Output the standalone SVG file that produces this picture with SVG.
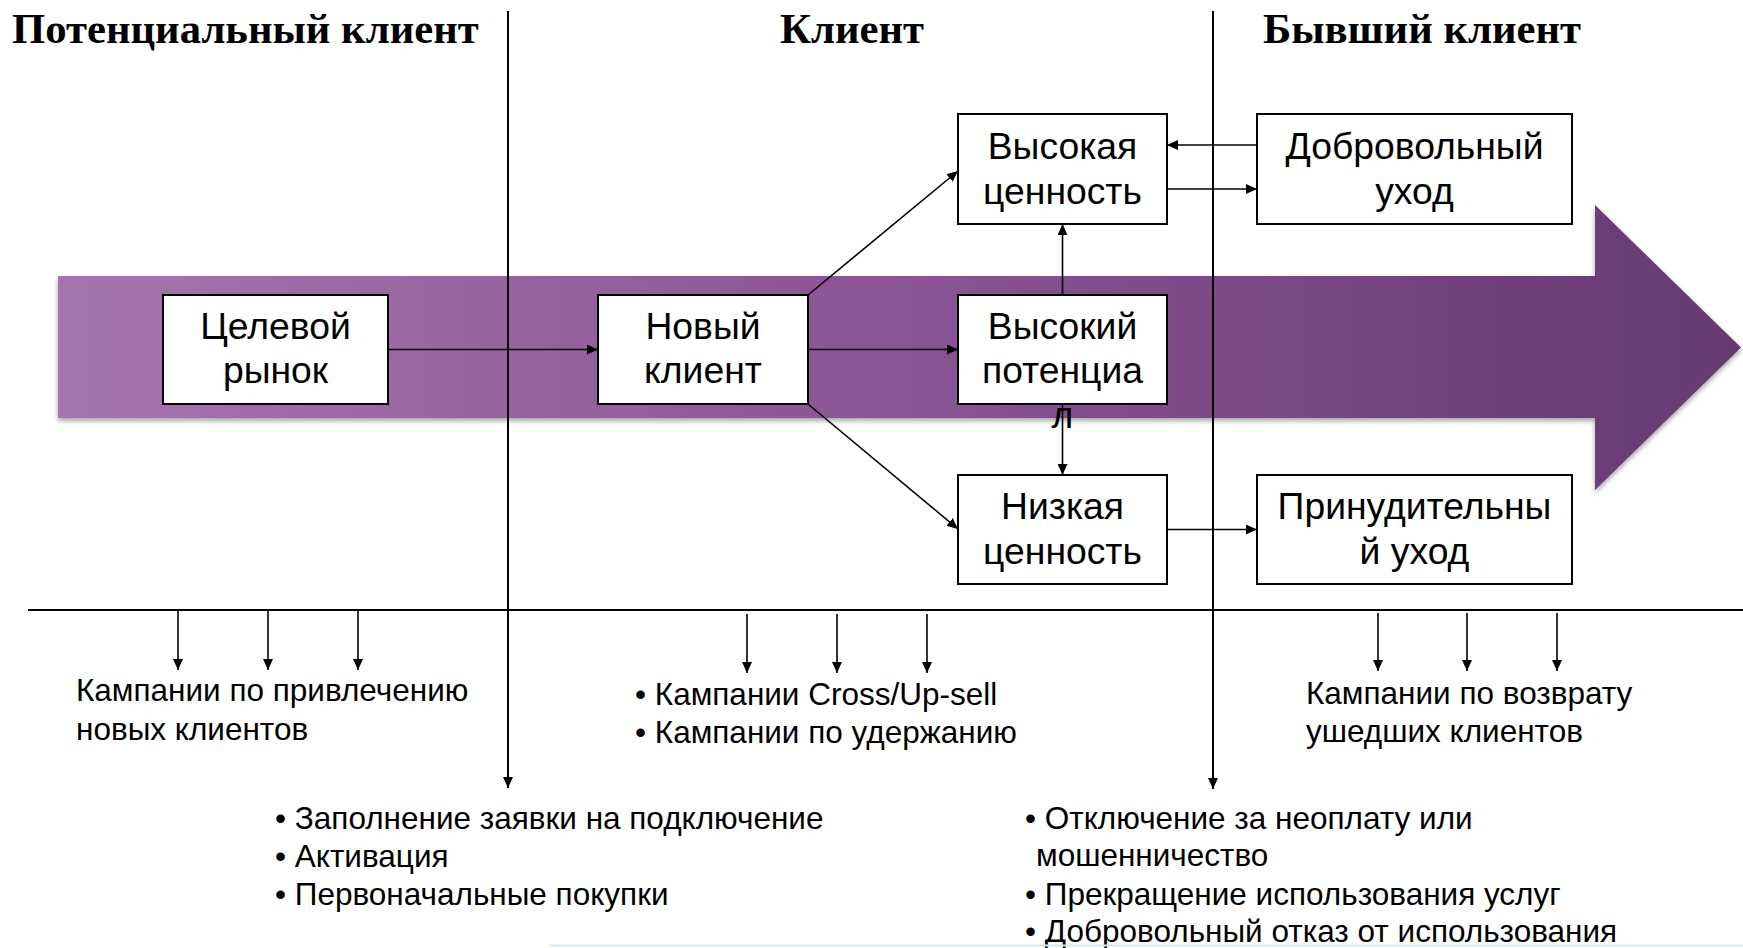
<svg xmlns="http://www.w3.org/2000/svg" width="1743" height="948" viewBox="0 0 1743 948">
<defs>
<linearGradient id="bigArrowGrad" x1="58" y1="0" x2="1741" y2="0" gradientUnits="userSpaceOnUse">
<stop offset="0" stop-color="#a674ae"/>
<stop offset="0.5" stop-color="#8a5494"/>
<stop offset="1" stop-color="#663972"/>
</linearGradient>
<filter id="shadow" x="-5%" y="-10%" width="110%" height="125%">
<feDropShadow dx="0" dy="3" stdDeviation="2.5" flood-color="#000" flood-opacity="0.35"/>
</filter>
<marker id="ah" markerUnits="userSpaceOnUse" markerWidth="12" markerHeight="10" refX="11" refY="5" orient="auto">
<path d="M0,0 L11,5 L0,10 z" fill="#000"/>
</marker>
</defs>
<style>
.title{font-family:"Liberation Serif","Times New Roman",serif;font-weight:bold;font-size:42.7px;fill:#000}
.box{fill:#fff;stroke:#000;stroke-width:2}
.bt{font-family:"Liberation Sans",Arial,sans-serif;font-size:37.3px;fill:#000;text-anchor:middle}
.lt{font-family:"Liberation Sans",Arial,sans-serif;font-size:31.5px;fill:#000}
.c{fill:none;stroke:#000;stroke-width:1.6;marker-end:url(#ah)}
.axis{fill:none;stroke:#000;stroke-width:2}
</style>

<rect x="0" y="0" width="1743" height="948" fill="#fff"/>

<g id="titles">
<text class="title" x="12" y="43">Потенциальный клиент</text>
<text class="title" x="852" y="43" text-anchor="middle">Клиент</text>
<text class="title" x="1422" y="43" text-anchor="middle">Бывший клиент</text>
</g>

<g id="big-arrow">
<path d="M58,276 H1595 V205 L1741,347.5 L1595,490 V418 H58 Z" fill="url(#bigArrowGrad)" filter="url(#shadow)"/>
</g>

<g id="dividers">
<path class="axis" d="M28,610 H1743"/>
<path class="axis" d="M508,11 V788" marker-end="url(#ah)"/>
<path class="axis" d="M1213,11 V789" marker-end="url(#ah)"/>
</g>

<g id="connectors">
<path class="c" d="M388,349.5 H598"/>
<path class="c" d="M808,349.5 H958"/>
<path class="c" d="M808,295 L958,171"/>
<path class="c" d="M808,404 L958,529"/>
<path class="c" d="M1062.5,295 V224"/>
<path class="c" d="M1062.5,404 V475"/>
<path class="c" d="M1257,145 H1167"/>
<path class="c" d="M1167,189 H1257"/>
<path class="c" d="M1167,529.5 H1257"/>
<path class="c" d="M178,611 V670"/>
<path class="c" d="M268,611 V670"/>
<path class="c" d="M358,611 V670"/>
<path class="c" d="M747,614 V673"/>
<path class="c" d="M837,614 V673"/>
<path class="c" d="M927,614 V673"/>
<path class="c" d="M1378,613 V671"/>
<path class="c" d="M1467,613 V671"/>
<path class="c" d="M1557,613 V671"/>
</g>

<g id="node-target-market">
<rect class="box" x="163" y="295" width="225" height="109"/>
<text class="bt" x="275.5" y="339">Целевой</text>
<text class="bt" x="275.5" y="383">рынок</text>
</g>

<g id="node-new-client">
<rect class="box" x="598" y="295" width="210" height="109"/>
<text class="bt" x="703" y="339">Новый</text>
<text class="bt" x="703" y="383">клиент</text>
</g>

<g id="node-high-value">
<rect class="box" x="958" y="114" width="209" height="110"/>
<text class="bt" x="1062.5" y="159">Высокая</text>
<text class="bt" x="1062.5" y="204">ценность</text>
</g>

<g id="node-high-potential">
<rect class="box" x="958" y="295" width="209" height="109"/>
<text class="bt" x="1062.5" y="339">Высокий</text>
<text class="bt" x="1062.5" y="383">потенциа</text>
<text class="bt" x="1062.5" y="428">л</text>
</g>

<g id="node-low-value">
<rect class="box" x="958" y="475" width="209" height="109"/>
<text class="bt" x="1062.5" y="519">Низкая</text>
<text class="bt" x="1062.5" y="564">ценность</text>
</g>

<g id="node-voluntary-churn">
<rect class="box" x="1257" y="114" width="315" height="110"/>
<text class="bt" x="1414.5" y="159">Добровольный</text>
<text class="bt" x="1414.5" y="204">уход</text>
</g>

<g id="node-forced-churn">
<rect class="box" x="1257" y="475" width="315" height="109"/>
<text class="bt" x="1414.5" y="519">Принудительны</text>
<text class="bt" x="1414.5" y="564">й уход</text>
</g>

<g id="labels">
<text class="lt" x="76" y="701">Кампании по привлечению</text>
<text class="lt" x="76" y="740">новых клиентов</text>

<text class="lt" x="635" y="705">• Кампании Cross/Up-sell</text>
<text class="lt" x="635" y="743">• Кампании по удержанию</text>

<text class="lt" x="1306" y="704">Кампании по возврату</text>
<text class="lt" x="1306" y="742">ушедших клиентов</text>

<text class="lt" x="275" y="829">• Заполнение заявки на подключение</text>
<text class="lt" x="275" y="867">• Активация</text>
<text class="lt" x="275" y="905">• Первоначальные покупки</text>

<text class="lt" x="1025" y="829">• Отключение за неоплату или</text>
<text class="lt" x="1036" y="866">мошенничество</text>
<text class="lt" x="1025" y="905">• Прекращение использования услуг</text>
<text class="lt" x="1025" y="942">• Добровольный отказ от использования</text>
</g>

<path d="M550,945.5 H1743" stroke="#d2e9f6" stroke-width="2" fill="none"/>
</svg>
